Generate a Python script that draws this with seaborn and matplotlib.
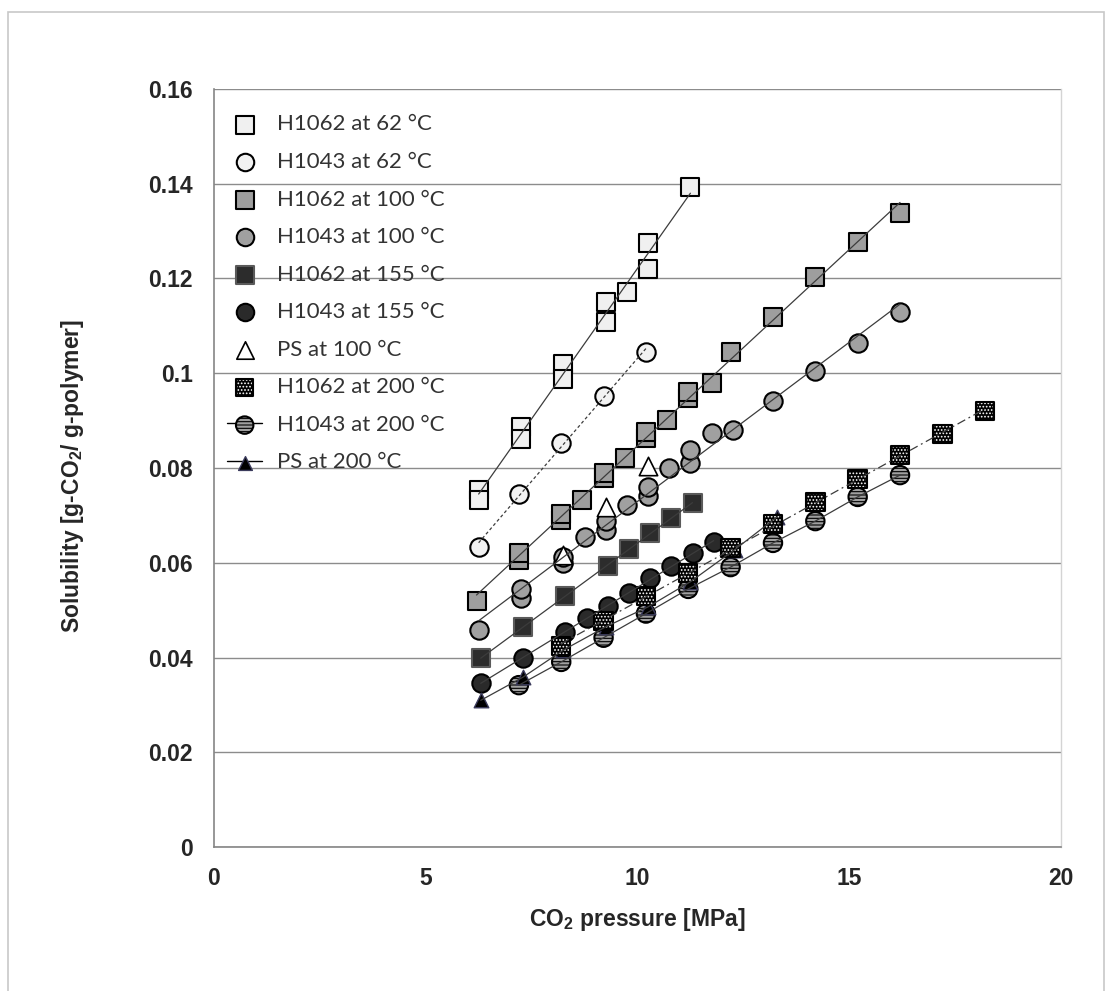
import numpy as np
import matplotlib
matplotlib.use("Agg")
import matplotlib.pyplot as plt
from matplotlib.lines import Line2D
from matplotlib.patches import Rectangle
import seaborn as sns

# Dados (pressão em MPa, solubilidade em g-CO2/g-polímero)
p_h1062_62 = [6.25, 6.25, 7.25, 7.25, 8.25, 8.25, 9.25, 9.25, 9.75, 10.25, 10.25, 11.25]
s_h1062_62 = [0.0754, 0.0733, 0.0886, 0.0861, 0.1019, 0.0988, 0.1150, 0.1108, 0.1171, 0.1274, 0.1220, 0.1393]

p_h1043_62 = [6.25, 7.2, 8.2, 9.2, 10.2]
s_h1043_62 = [0.0634, 0.0745, 0.0853, 0.0952, 0.1044]

p_h1062_100 = [6.2, 7.2, 7.2, 8.2, 8.2, 8.7, 9.2, 9.2, 9.7, 10.2, 10.2, 10.7, 11.2, 11.2,
               11.75, 12.2, 13.2, 14.2, 15.2, 16.2]
s_h1062_100 = [0.0520, 0.0606, 0.0621, 0.0690, 0.0703, 0.0732, 0.0779, 0.0789, 0.0821, 0.0863,
               0.0875, 0.0901, 0.0948, 0.0961, 0.0980, 0.1044, 0.1119, 0.1202, 0.1276, 0.1337]

p_h1043_100 = [6.25, 7.25, 7.25, 8.25, 8.25, 8.75, 9.25, 9.25, 9.75, 10.25, 10.25, 10.75, 11.25,
               11.25, 11.75, 12.25, 13.2, 14.2, 15.2, 16.2]
s_h1043_100 = [0.0458, 0.0526, 0.0545, 0.0600, 0.0612, 0.0654, 0.0669, 0.0688, 0.0722, 0.0741,
               0.0760, 0.0800, 0.0810, 0.0838, 0.0874, 0.0880, 0.0941, 0.1004, 0.1063, 0.1129]

p_h1062_155 = [6.3, 7.3, 8.3, 9.3, 9.8, 10.3, 10.8, 11.3]
s_h1062_155 = [0.0399, 0.0465, 0.0530, 0.0593, 0.0629, 0.0663, 0.0695, 0.0726]

p_h1043_155 = [6.3, 7.3, 8.3, 8.8, 9.3, 9.8, 10.3, 10.8, 11.3, 11.8]
s_h1043_155 = [0.0347, 0.0399, 0.0454, 0.0484, 0.0509, 0.0536, 0.0568, 0.0593, 0.0621, 0.0644]

p_ps_100 = [8.25, 9.25, 10.25]
s_ps_100 = [0.0617, 0.0718, 0.0804]

p_h1062_200 = [8.2, 9.2, 10.2, 11.2, 12.2, 13.2, 14.2, 15.2, 16.2, 17.2, 18.2]
s_h1062_200 = [0.0424, 0.0477, 0.0530, 0.0578, 0.0631, 0.0682, 0.0728, 0.0777, 0.0827, 0.0872, 0.0920]

p_h1043_200 = [7.2, 8.2, 9.2, 10.2, 11.2, 12.2, 13.2, 14.2, 15.2, 16.2]
s_h1043_200 = [0.0342, 0.0391, 0.0442, 0.0493, 0.0545, 0.0591, 0.0642, 0.0688, 0.0739, 0.0785]

p_ps_200 = [6.3, 7.3, 8.25, 9.25, 10.25, 11.25, 12.3, 13.3]
s_ps_200 = [0.0310, 0.0359, 0.0416, 0.0465, 0.0507, 0.0560, 0.0628, 0.0697]

rotulos = ["H1062 at 62 °C", "H1043 at 62 °C", "H1062 at 100 °C", "H1043 at 100 °C",
           "H1062 at 155 °C", "H1043 at 155 °C", "PS at 100 °C", "H1062 at 200 °C",
           "H1043 at 200 °C", "PS at 200 °C"]

# Estilo
sns.set_style("white")
plt.rcParams["font.family"] = ["Liberation Sans", "DejaVu Sans"]
plt.rcParams["font.weight"] = "bold"
plt.rcParams["mathtext.fontset"] = "custom"
plt.rcParams["mathtext.rm"] = "Liberation Sans"
plt.rcParams["mathtext.bf"] = "Liberation Sans:bold"
plt.rcParams["hatch.linewidth"] = 0.8

fig, ax = plt.subplots(figsize=(11.12, 9.91), dpi=100)
fig.subplots_adjust(left=0.1924, right=0.9541, bottom=0.145, top=0.9105)

S = 175
LW = 1.5


def pontos(x, y, marker, fc, ec, z, s=S, lw=LW, **kw):
    sns.scatterplot(x=x, y=y, marker=marker, s=s, facecolor=fc, edgecolor=ec,
                    linewidth=lw, zorder=z, legend=False, ax=ax, **kw)
    return ax.collections[-1]


# Pontos (ordem de desenho igual à do gráfico original)
c1 = pontos(p_h1062_62, s_h1062_62, "s", "#f0f0f0", "black", 3)
c2 = pontos(p_h1043_62, s_h1043_62, "o", "#f2f2f2", "black", 3.1)
c3 = pontos(p_h1062_100, s_h1062_100, "s", "#9e9e9e", "black", 3.2)
c4 = pontos(p_h1043_100, s_h1043_100, "o", "#a0a0a0", "black", 3.3)
c5 = pontos(p_h1062_155, s_h1062_155, "s", "#2c2c2c", "#5a5a5a", 3.4)
c6 = pontos(p_h1043_155, s_h1043_155, "o", "#2a2a2a", "black", 3.5)
c7 = pontos(p_ps_100, s_ps_100, "^", "white", "black", 3.6, lw=1.2)
c9 = pontos(p_h1043_200, s_h1043_200, "o", "#a0a0a0", "black", 3.7, hatch="-----")
c10 = pontos(p_ps_200, s_ps_200, "^", "black", "#3b3b5c", 3.8, s=110, lw=1.0)
c8a = pontos(p_h1062_200, s_h1062_200, "s", "black", "white", 3.9, lw=0, hatch=".....")
c8b = pontos(p_h1062_200, s_h1062_200, "s", "none", "black", 3.95)

# Linhas de tendência (regressão linear)
cor_linha = "#3c3c3c"
tendencias = [
    (p_h1062_62, s_h1062_62, "-"),
    (p_h1043_62, s_h1043_62, (0, (2.5, 2))),
    (p_h1062_100, s_h1062_100, "-"),
    (p_h1043_100, s_h1043_100, "-"),
    (p_h1062_155, s_h1062_155, "-"),
    (p_h1043_155, s_h1043_155, "-"),
    (p_h1062_200, s_h1062_200, (0, (7, 3, 1.5, 3))),
]
for x, y, ls in tendencias:
    sns.regplot(x=x, y=y, scatter=False, ci=None, truncate=True, ax=ax,
                line_kws=dict(color=cor_linha, lw=0.9, ls=ls, zorder=5))

# Séries com linha ligando os pontos
sns.lineplot(x=p_h1043_200, y=s_h1043_200, color=cor_linha, lw=0.9, errorbar=None,
             zorder=5, ax=ax)
sns.lineplot(x=p_ps_200, y=s_ps_200, color=cor_linha, lw=0.9, errorbar=None,
             zorder=5, ax=ax)

# Eixos
ax.set_xlim(0, 20)
ax.set_ylim(0, 0.16)
ax.set_xticks([0, 5, 10, 15, 20])
ax.set_xticklabels(["0", "5", "10", "15", "20"])
yt = [0, 0.02, 0.04, 0.06, 0.08, 0.1, 0.12, 0.14, 0.16]
ax.set_yticks(yt)
ax.set_yticklabels(["0", "0.02", "0.04", "0.06", "0.08", "0.1", "0.12", "0.14", "0.16"])
ax.yaxis.grid(True, color="#8c8c8c", lw=1)
ax.xaxis.grid(False)
ax.set_axisbelow(True)

for lado in ["left", "bottom"]:
    ax.spines[lado].set_color("#858585")
    ax.spines[lado].set_linewidth(1.2)
ax.spines["right"].set_color("#d4d4d4")
ax.spines["right"].set_linewidth(1)
ax.spines["top"].set_visible(False)

ax.tick_params(axis="y", direction="inout", length=9, width=1, color="#858585",
               pad=10.5, labelsize=16.5)
ax.tick_params(axis="x", direction="out", length=4.3, width=1, color="#858585",
               pad=10, labelsize=16.5)

ax.set_ylabel(r"Solubility [g-CO$_\mathbf{2}$/ g-polymer]", fontsize=16.5,
              fontweight="bold", va="center")
ax.yaxis.set_label_coords(-0.1665, 0.49)
ax.set_xlabel(r"CO$_\mathbf{2}$ pressure [MPa]", fontsize=16.5, fontweight="bold",
              va="center")
ax.xaxis.set_label_coords(0.5, -0.0958)

# Legenda
linha_h = Line2D([], [], color="black", lw=1)
handles = [c1, c2, c3, c4, c5, c6, c7, (c8a, c8b), (linha_h, c9), (linha_h, c10)]
ax.legend(handles, rotulos, loc="upper left", bbox_to_anchor=(0.0153, 0.966),
          frameon=False, borderpad=0, borderaxespad=0, handlelength=1.6,
          handletextpad=0.65, labelspacing=0.79, scatterpoints=1, markerscale=0.95,
          labelcolor="#333333", prop=dict(family="Lato", size=16, weight="normal"))

# Moldura externa do gráfico
fig.add_artist(Rectangle((8 / 1112, -0.02), (1104 - 8) / 1112, 1 - 12 / 991 + 0.02,
                         transform=fig.transFigure, fill=False, ec="#c8c8c8", lw=1.2))

fig.savefig("out.png", dpi=100, facecolor="white")
